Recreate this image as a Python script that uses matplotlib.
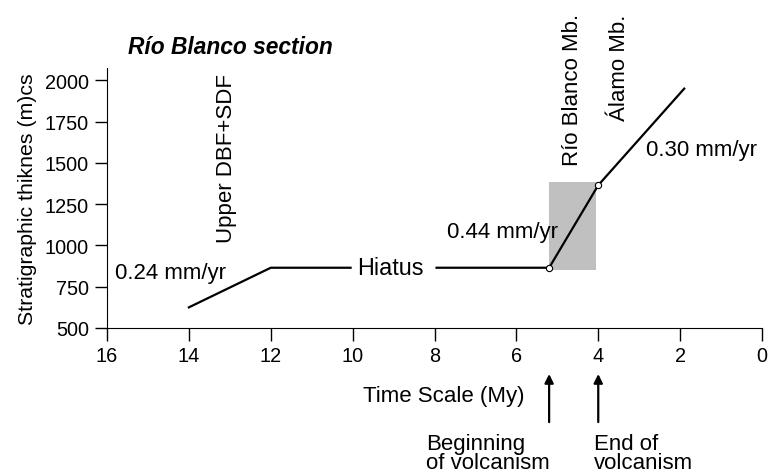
import matplotlib.pyplot as plt

plt.rcParams.update({'font.size': 16, 'font.family': ['Liberation Sans', 'DejaVu Sans']})

# accumulation curve (Ma, m)
x_early = [14, 12, 10.05]
y_early = [625, 865, 865]
x_late = [7.95, 5.2, 4.0, 1.9]
y_late = [865, 865, 1365, 1950]
x_pts = [5.2, 4.0]
y_pts = [865, 1365]

# volcanism window
box_x = [5.2, 4.05]
box_y = [850, 1385]

x_ticks = [16, 14, 12, 10, 8, 6, 4, 2, 0]
y_ticks = [500, 750, 1000, 1250, 1500, 1750, 2000]

fig = plt.figure(figsize=(7.7, 4.77), dpi=100)
ax = fig.add_axes([107/770, 1 - 329/477, 655/770, 260/477])

ax.fill_between(box_x, box_y[0], box_y[1], color='#c0c0c0', lw=0)
ax.plot(x_early, y_early, color='black', lw=1.6)
ax.plot(x_late, y_late, color='black', lw=1.6)
ax.plot(x_pts, y_pts, 'o', mfc='white', mec='black', ms=4.5, mew=0.8)

ax.set_xlim(16, 0)
ax.set_ylim(500, 2075)
ax.set_xticks(x_ticks)
ax.set_yticks(y_ticks)
ax.spines['top'].set_visible(False)
ax.spines['right'].set_visible(False)
ax.tick_params(direction='out', length=9, width=1, pad=4, labelsize=14.3)

ax.set_ylabel("Stratigraphic thiknes (m)cs", fontsize=15.3)
ax.yaxis.set_label_coords(-0.107, 0.5)

fig.text(128/770, 1 - 48/477, "Río Blanco section", fontweight='bold', style='italic',
         va='center', ha='left', fontsize=16.4)

# annotations
ax.text(14.44, 839, "0.24 mm/yr", ha='center', va='center')
ax.text(9.07, 869, "Hiatus", ha='center', va='center', fontsize=16.8)
ax.text(6.35, 1087, "0.44 mm/yr", ha='center', va='center')
ax.text(1.47, 1583, "0.30 mm/yr", ha='center', va='center')
ax.text(13.07, 1534, "Upper DBF+SDF", rotation=90, ha='center', va='center')
ax.text(4.63, 1950, "Río Blanco Mb.", rotation=90, ha='center', va='center')
ax.text(3.49, 2085, "Álamo Mb.", rotation=90, ha='center', va='center')

tr = ax.get_xaxis_transform()
ax.text(7.78, -0.26, "Time Scale (My)", transform=tr, ha='center', va='center')
for xa in x_pts:
    ax.annotate('', xy=(xa, -0.177), xytext=(xa, -0.362), xycoords=tr, textcoords=tr,
                arrowprops=dict(arrowstyle='-|>', color='black', lw=1.6,
                                mutation_scale=13, shrinkA=0, shrinkB=0))
ax.text(8.2, -0.465, "Beginning", transform=tr, ha='left', va='baseline')
ax.text(8.2, -0.538, "of volcanism", transform=tr, ha='left', va='baseline')
ax.text(4.1, -0.465, "End of", transform=tr, ha='left', va='baseline')
ax.text(4.1, -0.538, "volcanism", transform=tr, ha='left', va='baseline')

fig.savefig('out.png', dpi=100)
